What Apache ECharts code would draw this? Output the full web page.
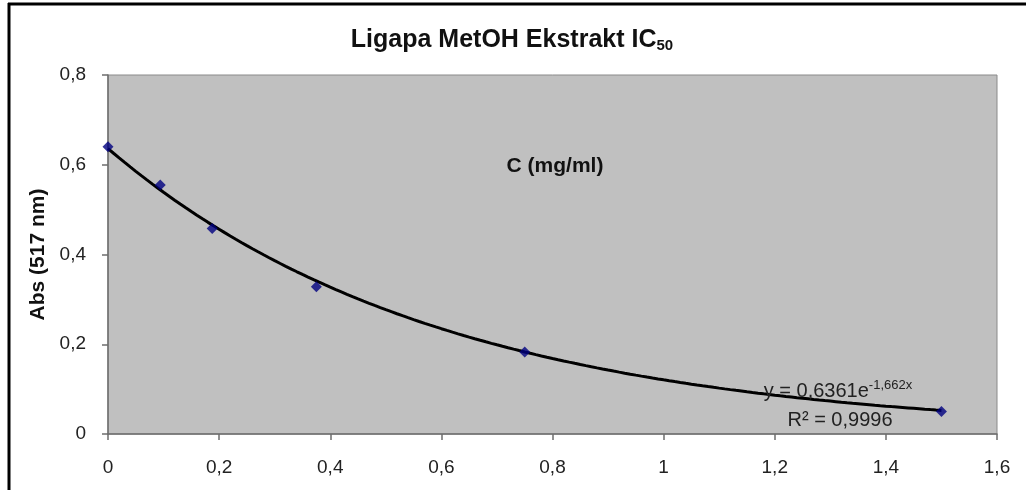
<!DOCTYPE html>
<html>
<head>
<meta charset="utf-8">
<script src="https://cdn.jsdelivr.net/npm/echarts@6/dist/echarts.min.js"></script>
<style>
  html, body { margin: 0; padding: 0; background: #fff; }
  #chart { width: 1026px; height: 490px; }
</style>
</head>
<body>
<div id="chart"></div>
<script>
// Measured concentrations (mg/ml) and absorbance at 517 nm
const concentration = [0, 0.094, 0.1875, 0.375, 0.75, 1.5];
const absorbance = [0.64, 0.555, 0.458, 0.328, 0.183, 0.05];

// Exponential trendline coefficients: y = A * e^(B x)
const trendA = 0.6361;
const trendB = -1.662;
const trendR2 = 0.9996;

// Axis ticks
const xTicks = [0, 0.2, 0.4, 0.6, 0.8, 1, 1.2, 1.4, 1.6];
const yTicks = [0, 0.2, 0.4, 0.6, 0.8];

const fmt = v => String(+(+v).toFixed(4)).replace('.', ',');

// Trendline sampled along the concentration range
const trendPoints = [];
const xEnd = concentration[concentration.length - 1];
for (let i = 0; i <= 150; i++) {
  const x = xEnd * i / 150;
  trendPoints.push([x, trendA * Math.exp(trendB * x)]);
}

const chart = echarts.init(document.getElementById('chart'));
const FONT = '"Liberation Sans", Arial, sans-serif';
const AXIS_GREY = '#6e6e6e';

chart.setOption({
  animation: false,
  backgroundColor: '#ffffff',
  textStyle: { fontFamily: FONT },
  grid: {
    left: 108, right: 29, top: 75, bottom: 56,
    show: true,
    backgroundColor: '#c0c0c0',
    borderColor: '#8a8a8a',
    borderWidth: 1
  },
  xAxis: {
    type: 'value',
    min: xTicks[0], max: xTicks[xTicks.length - 1], interval: 0.2,
    axisLine: { show: true, onZero: false, lineStyle: { color: AXIS_GREY, width: 1.5 } },
    axisTick: { show: true, length: 6, lineStyle: { color: AXIS_GREY, width: 1.5 } },
    splitLine: { show: false },
    axisLabel: { color: '#222', fontSize: 19, margin: 24, fontFamily: FONT, formatter: fmt }
  },
  yAxis: {
    type: 'value',
    min: yTicks[0], max: yTicks[yTicks.length - 1], interval: 0.2,
    name: 'Abs (517 nm)',
    nameLocation: 'middle',
    nameRotate: 90,
    nameGap: 50,
    nameTextStyle: { fontSize: 21, fontWeight: 'bold', color: '#111', fontFamily: FONT },
    axisLine: { show: true, lineStyle: { color: AXIS_GREY, width: 1.5 } },
    axisTick: { show: true, length: 6, lineStyle: { color: AXIS_GREY, width: 1.5 } },
    splitLine: { show: false },
    axisLabel: { color: '#222', fontSize: 19, margin: 22, fontFamily: FONT, formatter: fmt }
  },
  series: [
    {
      name: 'trend',
      type: 'line',
      data: trendPoints,
      showSymbol: false,
      smooth: false,
      lineStyle: { color: '#000', width: 3 },
      z: 2
    },
    {
      name: 'Abs',
      type: 'scatter',
      data: concentration.map((x, i) => [x, absorbance[i]]),
      symbol: 'diamond',
      symbolSize: 11,
      itemStyle: { color: '#000080' },
      z: 3
    }
  ],
  graphic: [
    // outer frame lines
    { type: 'line', shape: { x1: 8, y1: 4, x2: 1026, y2: 4 }, style: { stroke: '#000', lineWidth: 3 } },
    { type: 'line', shape: { x1: 9, y1: 3, x2: 9, y2: 490 }, style: { stroke: '#000', lineWidth: 3 } },
    // title with subscript
    {
      type: 'text', x: 512, y: 40,
      style: {
        text: '{t|Ligapa MetOH Ekstrakt IC}{s|50}',
        align: 'center', verticalAlign: 'middle',
        rich: {
          t: { fontSize: 25, fontWeight: 'bold', fill: '#111', fontFamily: FONT },
          s: { fontSize: 15, fontWeight: 'bold', fill: '#111', fontFamily: FONT, padding: [12, 0, 0, 0] }
        }
      }
    },
    // x-axis title
    {
      type: 'text', x: 555, y: 166,
      style: {
        text: 'C (mg/ml)', align: 'center', verticalAlign: 'middle',
        fontSize: 21, fontWeight: 'bold', fill: '#111', fontFamily: FONT
      }
    },
    // trendline equation and R²
    {
      type: 'text', x: 838, y: 391, z: 10,
      style: {
        text: '{b|y = ' + fmt(trendA) + 'e}{p|' + fmt(trendB) + 'x}',
        align: 'center', verticalAlign: 'middle',
        rich: {
          b: { fontSize: 20, fill: '#222', fontFamily: FONT },
          p: { fontSize: 13, fill: '#222', fontFamily: FONT, padding: [0, 0, 12, 0] }
        }
      }
    },
    {
      type: 'text', x: 840, y: 420, z: 10,
      style: {
        text: 'R² = ' + fmt(trendR2), align: 'center', verticalAlign: 'middle',
        fontSize: 20, fill: '#222', fontFamily: FONT
      }
    }
  ]
});
</script>
</body>
</html>
